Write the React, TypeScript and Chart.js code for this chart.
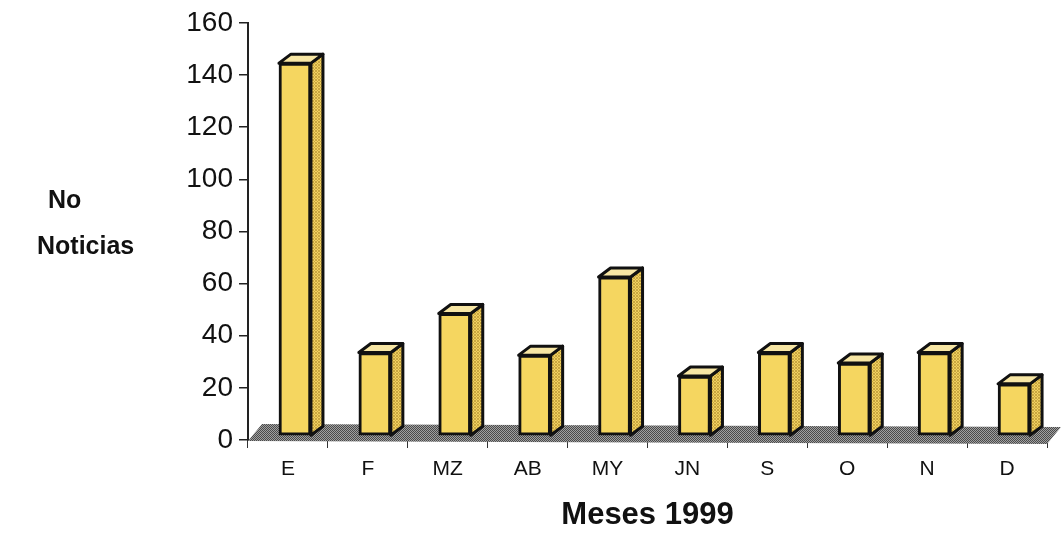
import React, { useEffect, useRef } from "react";
import { Chart, registerables } from "chart.js";

Chart.register(...registerables);

const months = ["E", "F", "MZ", "AB", "MY", "JN", "S", "O", "N", "D"];
const noticias = [143, 32, 47, 31, 61, 23, 32, 28, 32, 20];
const yTicks = [0, 20, 40, 60, 80, 100, 120, 140, 160];
const yTitleLines = ["No", "Noticias"];
const xTitle = "Meses 1999";

const SHIFT_X = 7;
const SHIFT_Y = -4;
const DEPTH_X = 12;
const DEPTH_Y = -9;

function makePattern(ctx: CanvasRenderingContext2D, a: string, b: string, size: number) {
  const c = document.createElement("canvas");
  c.width = size;
  c.height = size;
  const g = c.getContext("2d")!;
  g.fillStyle = a;
  g.fillRect(0, 0, size, size);
  g.fillStyle = b;
  for (let i = 0; i < size; i++) {
    for (let j = 0; j < size; j++) {
      if ((i + j) % 2 === 0) g.fillRect(i, j, 1, 1);
    }
  }
  return ctx.createPattern(c, "repeat")!;
}

const box3d = {
  id: "box3d",
  beforeDatasetsDraw(chart: any) {
    const ctx: CanvasRenderingContext2D = chart.ctx;
    const area = chart.chartArea;
    const yb = chart.scales.y.getPixelForValue(0);
    ctx.save();
    ctx.beginPath();
    ctx.moveTo(area.left, yb + 1);
    ctx.lineTo(area.right, yb + 4);
    ctx.lineTo(area.right + 14, yb - 13);
    ctx.lineTo(area.left + 14, yb - 16);
    ctx.closePath();
    ctx.fillStyle = makePattern(ctx, "#a0a0a0", "#4a4a4a", 4);
    ctx.fill();
    ctx.restore();
    ctx.save();
    ctx.translate(SHIFT_X, SHIFT_Y);
  },
  afterDatasetsDraw(chart: any) {
    const ctx: CanvasRenderingContext2D = chart.ctx;
    const meta = chart.getDatasetMeta(0);
    const sidePat = makePattern(ctx, "#f0d060", "#c9a640", 3);
    meta.data.forEach((el: any) => {
      const { x, y, base, width } = el.getProps(["x", "y", "base", "width"], true);
      const l = x - width / 2;
      const r = x + width / 2;
      ctx.lineWidth = 3;
      ctx.strokeStyle = "#111";
      ctx.lineJoin = "round";
      ctx.beginPath();
      ctx.moveTo(r, y);
      ctx.lineTo(r + DEPTH_X, y + DEPTH_Y);
      ctx.lineTo(r + DEPTH_X, base + DEPTH_Y);
      ctx.lineTo(r, base);
      ctx.closePath();
      ctx.fillStyle = sidePat;
      ctx.fill();
      ctx.stroke();
      ctx.beginPath();
      ctx.moveTo(l, y);
      ctx.lineTo(l + DEPTH_X, y + DEPTH_Y);
      ctx.lineTo(r + DEPTH_X, y + DEPTH_Y);
      ctx.lineTo(r, y);
      ctx.closePath();
      ctx.fillStyle = "#f7e6a4";
      ctx.fill();
      ctx.stroke();
    });
    ctx.restore();
  },
};

export default function App() {
  const ref = useRef<HTMLCanvasElement>(null);
  useEffect(() => {
    const chart = new Chart(ref.current!, {
      type: "bar",
      data: {
        labels: months,
        datasets: [
          {
            data: noticias,
            backgroundColor: "#f5d660",
            borderColor: "#111",
            borderWidth: 3,
            borderSkipped: false,
            barThickness: 32,
          },
        ],
      },
      plugins: [box3d],
      options: {
        responsive: false,
        animation: false,
        layout: { padding: { left: 0, right: 15, top: 22, bottom: 0 } },
        plugins: { legend: { display: false }, tooltip: { enabled: false } },
        scales: {
          x: {
            grid: { offset: true, drawOnChartArea: false, tickLength: 8, color: "#333", lineWidth: 1 },
            border: { display: false },
            ticks: {
              color: "#111",
              padding: 9,
              font: { family: "'Liberation Sans', Arial, sans-serif", size: 21 },
            },
            title: {
              display: true,
              text: xTitle,
              color: "#111",
              font: { family: "'Liberation Sans', Arial, sans-serif", size: 31, weight: "bold" },
              padding: { top: 0, bottom: 4 },
            },
            afterFit(scale: any) {
              scale.height = 98;
            },
          },
          y: {
            min: 0,
            max: 160,
            afterBuildTicks(scale: any) {
              scale.ticks = yTicks.map((v) => ({ value: v }));
            },
            grid: { drawOnChartArea: false, tickLength: 9, color: "#222", lineWidth: 1.5 },
            border: { display: true, color: "#222", width: 2 },
            ticks: {
              color: "#111",
              padding: 6,
              font: { family: "'Liberation Sans', Arial, sans-serif", size: 28 },
            },
            afterFit(scale: any) {
              scale.width = 248;
            },
          },
        },
      } as any,
    });
    return () => chart.destroy();
  }, []);

  return (
    <div style={{ position: "fixed", left: 0, top: 0, width: 1062, height: 538, background: "#fff" }}>
      <canvas ref={ref} width={1062} height={538} style={{ position: "absolute", left: 0, top: 0 }} />
      <div
        style={{
          position: "absolute",
          left: 37,
          top: 176,
          fontFamily: "'Liberation Sans', Arial, sans-serif",
          fontWeight: "bold",
          fontSize: 25,
          color: "#111",
          lineHeight: "46px",
        }}
      >
        <div style={{ paddingLeft: 11 }}>{yTitleLines[0]}</div>
        <div>{yTitleLines[1]}</div>
      </div>
    </div>
  );
}
